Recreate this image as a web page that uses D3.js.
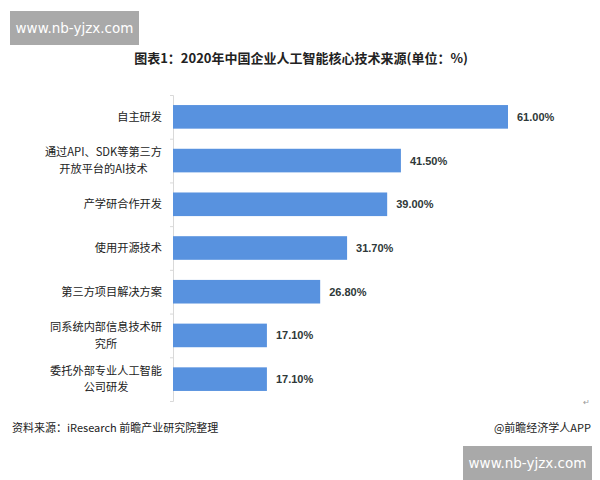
<!DOCTYPE html>
<html>
<head>
<meta charset="utf-8">
<script src="https://cdn.jsdelivr.net/npm/d3@7"></script>
<style>
  body { margin: 0; background: #fff; }
  svg { display: block; font-family: "Noto Sans CJK SC", "Noto Sans", sans-serif; }
</style>
</head>
<body>
<div id="viz"></div>
<script>
'use strict';

var categories = [
    ['自主研发'],
    ['通过API、SDK等第三方', '开放平台的AI技术'],
    ['产学研合作开发'],
    ['使用开源技术'],
    ['第三方项目解决方案'],
    ['同系统内部信息技术研', '究所'],
    ['委托外部专业人工智能', '公司研发']
];
var values = [61.0, 41.5, 39.0, 31.7, 26.8, 17.1, 17.1];
var valueLabels = ['61.00%', '41.50%', '39.00%', '31.70%', '26.80%', '17.10%', '17.10%'];
var title = '图表1：2020年中国企业人工智能核心技术来源(单位：%)';
var source = '资料来源：iResearch 前瞻产业研究院整理';
var credit = '@前瞻经济学人APP';
var stamp = 'www.nb-yjzx.com';

var width = 600,
    height = 480;
var plotLeft = 173,
    plotTop = 95,
    plotBottom = 401;

var svg = d3.select('#viz').append('svg')
    .attr('width', width)
    .attr('height', height);

var idx = d3.range(values.length);
var y = d3.scaleBand()
    .domain(idx)
    .range([plotTop, plotBottom])
    .paddingInner(0.46)
    .paddingOuter(0.23);
var x = d3.scaleLinear()
    .domain([0, 61])
    .range([plotLeft, 508]);

// y axis line with small ticks
var axis = svg.append('g')
    .attr('transform', 'translate(' + plotLeft + ',0)')
    .call(d3.axisLeft(d3.scaleLinear().domain([0, values.length]).range([plotTop, plotBottom]))
        .ticks(values.length)
        .tickSize(3)
        .tickFormat(''));
axis.selectAll('line, path').attr('stroke', '#d9d9d9');

svg.append('g')
    .selectAll('rect')
    .data(values)
    .enter().append('rect')
    .attr('x', x(0))
    .attr('y', (d, i) => y(i))
    .attr('width', d => x(d) - x(0))
    .attr('height', y.bandwidth())
    .attr('fill', '#5892df');

svg.append('g')
    .selectAll('text')
    .data(values)
    .enter().append('text')
    .attr('x', d => x(d) + 9)
    .attr('y', (d, i) => y(i) + y.bandwidth() / 2)
    .attr('dy', '0.36em')
    .attr('font-size', 11)
    .attr('font-weight', 'bold')
    .attr('font-family', '"Liberation Sans", Arial, sans-serif')
    .attr('fill', '#2e3838')
    .text((d, i) => valueLabels[i]);

// category labels: block right-aligned to the axis, lines centred inside it
var labelRight = 162;
var catG = svg.append('g');
categories.forEach(function(lines, i) {
    var cy = y(i) + y.bandwidth() / 2;
    var texts = lines.map(function(line, j) {
        return catG.append('text')
            .attr('y', cy + (j - (lines.length - 1) / 2) * 16.4)
            .attr('dy', '0.36em')
            .attr('text-anchor', 'middle')
            .attr('font-size', 11.2)
            .attr('fill', '#222')
            .text(line);
    });
    var maxW = d3.max(texts, t => t.node().getComputedTextLength());
    texts.forEach(t => t.attr('x', labelRight - maxW / 2));
});

svg.append('text')
    .attr('x', 301)
    .attr('y', 58)
    .attr('dy', '0.36em')
    .attr('text-anchor', 'middle')
    .attr('font-size', 13)
    .attr('font-weight', 'bold')
    .attr('fill', '#222')
    .text(title);

svg.append('text')
    .attr('x', 12)
    .attr('y', 428)
    .attr('dy', '0.36em')
    .attr('font-size', 11)
    .attr('fill', '#222')
    .text(source);

svg.append('text')
    .attr('x', 591)
    .attr('y', 428)
    .attr('dy', '0.36em')
    .attr('text-anchor', 'end')
    .attr('font-size', 11)
    .attr('fill', '#222')
    .text(credit);

svg.append('text')
    .attr('x', 590)
    .attr('y', 402)
    .attr('dy', '0.36em')
    .attr('text-anchor', 'end')
    .attr('font-size', 8)
    .attr('fill', '#999')
    .text('↵');

// site stamps
[[10, 11], [463, 446]].forEach(function(p) {
    svg.append('rect')
        .attr('x', p[0])
        .attr('y', p[1])
        .attr('width', 129)
        .attr('height', 34)
        .attr('fill', '#a9a9a9');
    svg.append('text')
        .attr('x', p[0] + 64.5)
        .attr('y', p[1] + 17)
        .attr('dy', '0.36em')
        .attr('text-anchor', 'middle')
        .attr('font-size', 13.5)
        .attr('font-family', '"DejaVu Sans", sans-serif')
        .attr('fill', '#fff')
        .text(stamp);
});
</script>
</body>
</html>
